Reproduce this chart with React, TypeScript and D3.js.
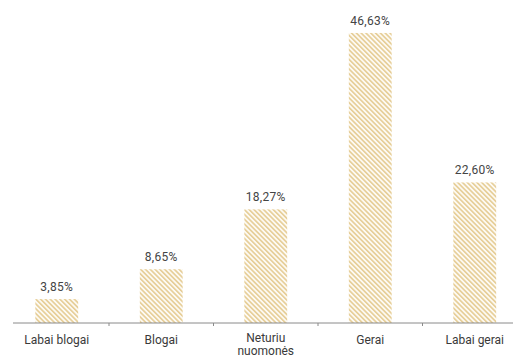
import React from "react";
import * as d3 from "d3";

const categories = ["Labai blogai", "Blogai", "Neturiu nuomonės", "Gerai", "Labai gerai"];
const categoryLines = [["Labai blogai"], ["Blogai"], ["Neturiu", "nuomonės"], ["Gerai"], ["Labai gerai"]];
const values = [3.85, 8.65, 18.27, 46.63, 22.6];

const W = 513;
const H = 360;
const baseY = 323;

export default function App() {
  const x = d3
    .scaleBand<string>()
    .domain(categories)
    .range([4.5, 527])
    .paddingInner(0.59)
    .paddingOuter(0.295);
  const y = d3.scaleLinear().domain([0, 50]).range([baseY, 12]);
  const step = x.step();
  const fmt = (v: number) => d3.format(".2f")(v).replace(".", ",") + "%";
  const font = "Roboto, 'DejaVu Sans', sans-serif";

  return (
    <svg
      width={W}
      height={H}
      style={{ position: "absolute", left: 0, top: 0, background: "#fff" }}
    >
      <defs>
        <pattern
          id="hatch"
          width={3.4}
          height={3.4}
          patternUnits="userSpaceOnUse"
          patternTransform="rotate(-45)"
        >
          <rect width={3.4} height={3.4} fill="#fdfaf3" />
          <rect x={0} y={0} width={1.6} height={3.4} fill="#e6cd96" />
        </pattern>
      </defs>
      {categories.map((c, i) => {
        const x0 = x(c)!;
        const bw = x.bandwidth();
        const yt = y(values[i]);
        return (
          <g key={c}>
            <rect x={x0} y={yt} width={bw} height={baseY - yt} fill="url(#hatch)" />
            <text
              x={x0 + bw / 2}
              y={yt - 8}
              textAnchor="middle"
              fontFamily={font}
              fontSize={12}
              letterSpacing={0.3}
              fill="#444"
            >
              {fmt(values[i])}
            </text>
            {categoryLines[i].map((ln, j) => (
              <text
                key={j}
                x={x0 + bw / 2}
                y={(categoryLines[i].length > 1 ? 342 : 344) + j * 13}
                textAnchor="middle"
                fontFamily={font}
                fontSize={12}
                fill="#3a3a3a"
              >
                {ln}
              </text>
            ))}
          </g>
        );
      })}
      <line x1={13} x2={513} y1={baseY} y2={baseY} stroke="#8a8a8a" strokeWidth={1} />
      {categories.slice(1).map((c) => {
        const bx = x(c)! - step * 0.295;
        return (
          <line key={c} x1={bx} x2={bx} y1={baseY} y2={baseY + 3} stroke="#8a8a8a" />
        );
      })}
    </svg>
  );
}
